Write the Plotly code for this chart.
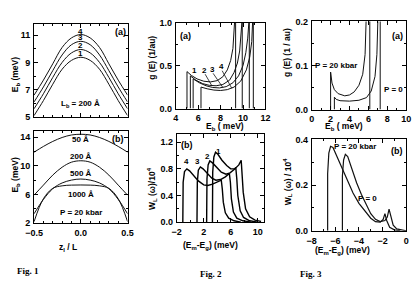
import plotly.graph_objects as go

W, H = 417, 285
FONT = "Liberation Sans, Arial, sans-serif"

# ---------------- Fig 1 data ----------------
z_pos = [-0.5, -0.4, -0.3, -0.2, -0.1, 0.0, 0.1, 0.2, 0.3, 0.4, 0.5]
f1a_c1 = [5.1, 6.2, 7.4, 8.5, 9.15, 9.38, 9.15, 8.5, 7.4, 6.2, 5.1]
f1a_c2 = [5.6, 6.7, 7.9, 9.0, 9.7, 9.95, 9.7, 9.0, 7.9, 6.7, 5.6]
f1a_c3 = [6.1, 7.2, 8.4, 9.55, 10.3, 10.55, 10.3, 9.55, 8.4, 7.2, 6.1]
f1a_c4 = [6.6, 7.7, 8.9, 10.1, 10.8, 11.05, 10.8, 10.1, 8.9, 7.7, 6.6]
f1b_50 = [11.9, 12.7, 13.4, 13.95, 14.3, 14.4, 14.3, 13.95, 13.4, 12.7, 11.9]
f1b_200 = [5.9, 7.3, 8.7, 9.8, 10.5, 10.7, 10.5, 9.8, 8.7, 7.3, 5.9]
f1b_500 = [3.3, 5.3, 6.8, 7.6, 8.0, 8.15, 8.0, 7.6, 6.8, 5.3, 3.3]
f1b_1000 = [2.2, 5.4, 6.85, 7.2, 7.3, 7.32, 7.3, 7.2, 6.85, 5.4, 2.2]

# ---------------- Fig 2(a) data ----------------
f2a_c1_E = [5.0, 5.0, 5.4, 5.9, 6.5, 7.1, 7.7, 8.2, 8.6, 8.9, 9.1, 9.22, 9.3, 9.34, 9.34, 9.34]
f2a_c1_g = [0.0, 0.43, 0.385, 0.345, 0.318, 0.31, 0.325, 0.37, 0.45, 0.56, 0.7, 0.85, 1.0, 1.2, 1.2, 0.0]
f2a_c2_E = [5.3, 5.3, 5.8, 6.4, 7.0, 7.6, 8.2, 8.8, 9.2, 9.5, 9.7, 9.82, 9.9, 9.93, 9.93]
f2a_c2_g = [0.0, 0.38, 0.33, 0.29, 0.27, 0.265, 0.28, 0.33, 0.42, 0.53, 0.67, 0.82, 1.0, 1.2, 0.0]
f2a_c3_E = [5.55, 5.55, 6.1, 6.7, 7.3, 7.9, 8.5, 9.1, 9.6, 10.0, 10.25, 10.42, 10.52, 10.56, 10.56]
f2a_c3_g = [0.0, 0.345, 0.3, 0.265, 0.245, 0.24, 0.255, 0.3, 0.38, 0.5, 0.65, 0.82, 1.0, 1.2, 0.0]
f2a_c4_E = [6.25, 6.25, 6.8, 7.4, 8.0, 8.6, 9.2, 9.8, 10.3, 10.6, 10.78, 10.88, 10.92, 10.92]
f2a_c4_g = [0.0, 0.25, 0.23, 0.215, 0.21, 0.22, 0.25, 0.32, 0.45, 0.6, 0.78, 1.0, 1.2, 0.0]

# ---------------- Fig 2(b) data ----------------
f2b_c4_E = [-1.1, -1.05, -0.85, -0.5, -0.1, 0.5, 1.2, 2.0, 2.6, 3.3, 4.0, 4.6, 4.75, 4.9, 5.2, 5.7, 6.5, 7.5]
f2b_c4_W = [0.0, 0.6, 0.76, 0.8, 0.77, 0.7, 0.62, 0.56, 0.55, 0.57, 0.6, 0.63, 0.5, 0.3, 0.14, 0.06, 0.02, 0.0]
f2b_c3_E = [1.0, 1.05, 1.2, 1.5, 1.9, 2.5, 3.2, 3.8, 4.5, 5.2, 5.8, 5.95, 6.1, 6.4, 6.9, 7.8, 9.0]
f2b_c3_W = [0.0, 0.6, 0.78, 0.83, 0.8, 0.73, 0.66, 0.63, 0.64, 0.68, 0.73, 0.6, 0.35, 0.15, 0.06, 0.02, 0.0]
f2b_c2_E = [2.43, 2.48, 2.65, 2.9, 3.3, 3.9, 4.6, 5.3, 5.9, 6.5, 6.75, 6.9, 7.05, 7.4, 7.9, 8.8, 10.0]
f2b_c2_W = [0.0, 0.65, 0.86, 0.92, 0.89, 0.82, 0.75, 0.72, 0.74, 0.79, 0.82, 0.65, 0.4, 0.17, 0.07, 0.02, 0.0]
f2b_c1_E = [3.29, 3.33, 3.5, 3.75, 4.1, 4.7, 5.4, 6.0, 6.6, 7.2, 7.55, 7.7, 7.85, 8.2, 8.8, 9.6, 10.5]
f2b_c1_W = [0.0, 0.75, 0.98, 1.05, 1.02, 0.93, 0.85, 0.8, 0.8, 0.86, 0.93, 0.75, 0.45, 0.2, 0.08, 0.03, 0.01]

# ---------------- Fig 3(a) data ----------------
f3a_p20_E = [2.0, 2.0, 2.15, 2.4, 2.8, 3.5, 4.0, 4.5, 5.0, 5.4, 5.65, 5.8, 5.9, 6.15, 6.15]
f3a_p20_g = [0.0, 0.085, 0.06, 0.045, 0.036, 0.031, 0.033, 0.04, 0.055, 0.08, 0.125, 0.2, 0.3, 0.3, 0.0]
f3a_p0_E = [2.4, 2.4, 2.6, 3.0, 4.0, 5.0, 5.8, 6.3, 6.7, 6.9, 7.0, 7.05, 7.25, 7.25]
f3a_p0_g = [0.0, 0.028, 0.023, 0.02, 0.019, 0.021, 0.027, 0.042, 0.075, 0.125, 0.2, 0.3, 0.3, 0.0]

# ---------------- Fig 3(b) data ----------------
f3b_p20_E = [-6.65, -6.65, -6.55, -6.4, -6.2, -5.9, -5.5, -5.0, -4.5, -4.0, -3.5, -3.0, -2.6, -2.2, -1.95, -1.8, -1.65, -1.4, -1.0, -0.5]
f3b_p20_W = [0.0, 0.25, 0.34, 0.37, 0.365, 0.33, 0.28, 0.22, 0.165, 0.12, 0.085, 0.055, 0.04, 0.038, 0.05, 0.075, 0.045, 0.015, 0.004, 0.0]
f3b_p0_E = [-5.4, -5.4, -5.3, -5.15, -4.95, -4.6, -4.2, -3.8, -3.4, -3.0, -2.6, -2.2, -1.8, -1.6, -1.45, -1.3, -1.1, -0.8, -0.3, 0.0]
f3b_p0_W = [0.0, 0.24, 0.31, 0.335, 0.325, 0.27, 0.21, 0.16, 0.115, 0.075, 0.05, 0.04, 0.045, 0.06, 0.095, 0.06, 0.025, 0.008, 0.001, 0.0]


def px(x):
    return x / W


def py(y):
    return 1 - y / H


fig = go.Figure()


def line(x, y, ax, width=1.0, color="#111111", shape="linear"):
    fig.add_trace(go.Scatter(x=x, y=y, mode="lines", xaxis="x" + ax, yaxis="y" + ax,
                             line=dict(color=color, width=width, shape=shape),
                             showlegend=False, hoverinfo="skip"))


for c in (f1a_c1, f1a_c2, f1a_c3, f1a_c4):
    line(z_pos, c, "", shape="spline")
for c in (f1b_50, f1b_200, f1b_500, f1b_1000):
    line(z_pos, c, "2", shape="spline")
for e, g in ((f2a_c1_E, f2a_c1_g), (f2a_c2_E, f2a_c2_g), (f2a_c3_E, f2a_c3_g), (f2a_c4_E, f2a_c4_g)):
    line(e, g, "3")
for e, g in ((f2b_c4_E, f2b_c4_W), (f2b_c3_E, f2b_c3_W), (f2b_c2_E, f2b_c2_W), (f2b_c1_E, f2b_c1_W)):
    line(e, g, "4", width=1.4, color="#000000")
line(f3a_p20_E, f3a_p20_g, "5")
line(f3a_p0_E, f3a_p0_g, "5")
line(f3b_p20_E, f3b_p20_W, "6", width=1.2)
line(f3b_p0_E, f3b_p0_W, "6", width=1.2)

tickfont = dict(family=FONT, size=9, color="black", weight="bold")


def axis(domain, rng, dtick, tick0, mdtick, anchor, fmt=None, labels=True):
    d = dict(domain=domain, range=rng, dtick=dtick, tick0=tick0, tickmode="linear",
             ticks="inside", ticklen=4, tickwidth=1, tickcolor="black",
             showline=True, linecolor="black", linewidth=1, mirror="allticks",
             showgrid=False, zeroline=False, anchor=anchor, showticklabels=labels,
             tickfont=tickfont, ticklabelstandoff=1,
             minor=dict(dtick=mdtick, tick0=tick0, ticks="inside", ticklen=2,
                        tickwidth=1, tickcolor="black", showgrid=False))
    if fmt:
        d["tickformat"] = fmt
    return d


x1 = [px(26), px(123)]
x2 = [px(173), px(266)]
x3 = [px(314), px(412)]

fig.update_layout(
    width=W, height=H, margin=dict(l=0, r=0, t=0, b=0),
    paper_bgcolor="white", plot_bgcolor="white",
    xaxis=axis(x1, [-0.5, 0.5], 0.5, -0.5, 0.1, "y", ".1f", labels=False),
    yaxis=axis([py(116), py(20)], [5, 11.8], 2, 5, 1, "x"),
    xaxis2=axis(x1, [-0.5, 0.5], 0.5, -0.5, 0.1, "y2", ".1f"),
    yaxis2=axis([py(226), py(131)], [2, 14.8], 4, 2, 2, "x2"),
    xaxis3=axis(x2, [4, 12], 2, 4, 1, "y3"),
    yaxis3=axis([py(107.3), py(18.3)], [0, 1.0], 0.5, 0, 0.25, "x3", ".1f"),
    xaxis4=axis([px(174), px(265)], [-2, 11], 4, -2, 2, "y4"),
    yaxis4=axis([py(225), py(134)], [0, 1.32], 0.4, 0, 0.2, "x4", ".1f"),
    xaxis5=axis(x3, [0, 10], 2, 0, 1, "y5"),
    yaxis5=axis([py(108.3), py(17)], [0, 0.2], 0.1, 0, 0.05, "x5", ".1f"),
    xaxis6=axis(x3, [-8, 0], 2, -8, 1, "y6"),
    yaxis6=axis([py(234), py(139.3)], [0, 0.4], 0.2, 0, 0.1, "x6", ".1f"),
)

ann = []
lab = dict(family=FONT, size=8, color="black", weight="bold")


def dtext(t, x, y, ax, size=8):
    f = dict(lab)
    f["size"] = size
    ann.append(dict(text=t, x=x, y=y, xref="x" + ax, yref="y" + ax, showarrow=False,
                    font=f, xanchor="center", yanchor="middle"))


def ptext(t, x, y, angle=0, size=8.5, family=FONT, weight="bold"):
    ann.append(dict(text=t, x=px(x), y=py(y), xref="paper", yref="paper", showarrow=False,
                    textangle=angle, xanchor="center", yanchor="middle",
                    font=dict(family=family, size=size, color="black", weight=weight)))


# Fig 1(a)
dtext("4", 0, 11.3, "")
dtext("3", 0, 10.8, "")
dtext("2", 0, 10.25, "")
dtext("1", 0, 9.65, "")
dtext("L<sub>b</sub> = 200 Å", 0, 5.92, "")
dtext("(a)", 0.42, 11.2, "", 9)
# Fig 1(b)
dtext("50 Å", 0, 13.6, "2")
dtext("200 Å", 0, 11.25, "2")
dtext("500 Å", 0, 8.87, "2")
dtext("1000 Å", 0, 6.04, "2")
dtext("P = 20 kbar", 0, 3.48, "2")
dtext("(b)", 0.4, 13.8, "2", 9)
# Fig 2(a)
dtext("(a)", 4.9, 0.84, "3", 9)
dtext("1", 5.64, 0.44, "3")
dtext("2", 6.55, 0.44, "3")
dtext("3", 7.25, 0.46, "3")
dtext("4", 8.05, 0.49, "3")
# Fig 2(b)
dtext("(b)", -0.43, 1.16, "4", 9)
dtext("4", -0.53, 0.91, "4")
dtext("3", 1.14, 0.91, "4")
dtext("2", 2.57, 0.99, "4")
dtext("1", 4.19, 1.06, "4")
# Fig 3(a)
dtext("P = 20 kbar", 2.55, 0.099, "5")
dtext("P = 0", 8.7, 0.045, "5")
dtext("(a)", 9.1, 0.167, "5", 9)
# Fig 3(b)
dtext("P = 20 kbar", -4.37, 0.368, "6")
dtext("(b)", -0.8, 0.35, "6", 9)
dtext("P = 0", -3.27, 0.143, "6")

# axis titles & captions
SERIF = "Liberation Serif, Times New Roman, serif"
ptext("E<sub>b</sub> (meV)", 7, 72, -90)
ptext("E<sub>b</sub> (meV)", 7, 176, -90)
ptext("z<sub>l</sub> / L", 61, 251)
ptext("Fig. 1", 20, 276, 0, 9, SERIF)
ptext("g (E) (1/au)", 148, 55, -90)
ptext("E<sub>b</sub> ( meV)", 224, 126)
ptext("W<sub>L</sub> (ω)/10<sup>4</sup>", 148, 190, -90)
ptext("(E<sub>m</sub>-E<sub>g</sub>) (meV)", 209, 249)
ptext("Fig. 2", 210, 279, 0, 9, SERIF)
ptext("g (E) (1 / au)", 289, 49, -90)
ptext("E<sub>b</sub> ( meV)", 348, 126)
ptext("W<sub>L</sub> (ω) / 10<sup>4</sup>", 289, 183, -90)
ptext("(E<sub>m</sub>-E<sub>g</sub>) (meV)", 346, 254)
ptext("Fig. 3", 313, 279, 0, 9, SERIF)

fig.update_layout(annotations=ann)

# leader lines in Fig 2(a)
shapes = []
for (xa, ya, xb, yb) in ((6.62, 0.40, 7.2, 0.27), (7.33, 0.41, 8.2, 0.245), (8.14, 0.44, 9.0, 0.235)):
    shapes.append(dict(type="line", xref="x3", yref="y3", x0=xa, y0=ya, x1=xb, y1=yb,
                       line=dict(color="#111111", width=0.8)))
fig.update_layout(shapes=shapes)

fig.write_html("out.html")
